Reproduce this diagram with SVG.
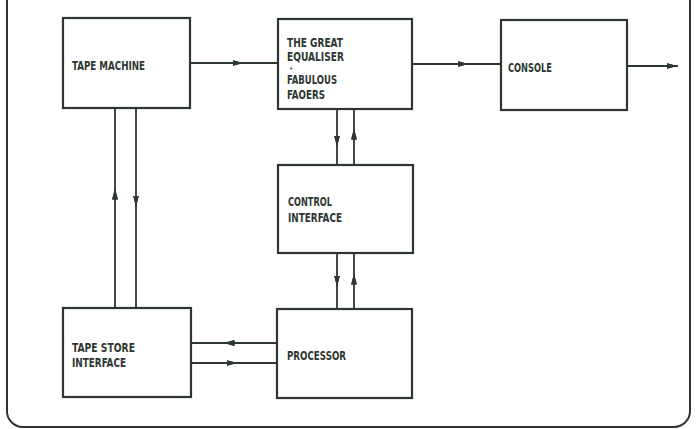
<svg xmlns="http://www.w3.org/2000/svg" width="700" height="429" viewBox="0 0 700 429">
<defs>
<marker id="ah" viewBox="0 0 10 6" refX="5" refY="3" markerWidth="11" markerHeight="6.5" markerUnits="userSpaceOnUse" orient="auto">
<path d="M0,0.3 L10,3 L0,5.7 Z" fill="#2e3631"/>
</marker>
<style>
.box{fill:none;stroke:#2e3631;stroke-width:2.2}
.ln{fill:none;stroke:#2e3631;stroke-width:1.8}
.frame{fill:none;stroke:#2e3631;stroke-width:2}
text{font-family:"Liberation Sans Narrow","DejaVu Sans Condensed","Liberation Sans",sans-serif;font-weight:bold;font-size:13px;fill:#2e3631}
</style>
</defs>
<rect width="700" height="429" fill="#ffffff"/>
<path class="frame" d="M7,-5 V410 A16,16 0 0 0 23,427 H674 A16,16 0 0 0 690,411 V-5"/>
<g id="connectors">
<path class="ln" d="M190,63 H238 M238,63 H278" marker-mid="url(#ah)"/>
<path class="ln" d="M412,64 H463 M463,64 H501" marker-mid="url(#ah)"/>
<path class="ln" d="M627,66 H672 M672,66 H678" marker-mid="url(#ah)"/>
<path class="ln" d="M337,109 V141 M337,141 V165" marker-mid="url(#ah)"/>
<path class="ln" d="M354,165 V134 M354,134 V109" marker-mid="url(#ah)"/>
<path class="ln" d="M337,253 V281 M337,281 V309" marker-mid="url(#ah)"/>
<path class="ln" d="M354,309 V279 M354,279 V253" marker-mid="url(#ah)"/>
<path class="ln" d="M115,308 V194 M115,194 V108" marker-mid="url(#ah)"/>
<path class="ln" d="M136,108 V201 M136,201 V308" marker-mid="url(#ah)"/>
<path class="ln" d="M277,343 H229 M229,343 H191" marker-mid="url(#ah)"/>
<path class="ln" d="M191,363 H232 M232,363 H277" marker-mid="url(#ah)"/>
</g>
<g id="tape-machine">
<rect class="box" x="63" y="18" width="127" height="90"/>
<text x="72" y="70" textLength="73" lengthAdjust="spacingAndGlyphs">TAPE MACHINE</text>
</g>
<g id="great-equaliser">
<rect class="box" x="278" y="19" width="134" height="90"/>
<text x="287" y="47" textLength="56" lengthAdjust="spacingAndGlyphs">THE GREAT</text>
<text x="287" y="61" textLength="57" lengthAdjust="spacingAndGlyphs">EQUALISER</text>
<text x="289" y="69.8" style="font-size:5.5px">+</text>
<text x="287" y="83.5" textLength="50" lengthAdjust="spacingAndGlyphs">FABULOUS</text>
<text x="287" y="99" textLength="38" lengthAdjust="spacingAndGlyphs">FAOERS</text>
</g>
<g id="console">
<rect class="box" x="501" y="20" width="126" height="90"/>
<text x="508" y="72" textLength="44" lengthAdjust="spacingAndGlyphs">CONSOLE</text>
</g>
<g id="control-interface">
<rect class="box" x="278" y="165" width="135" height="88"/>
<text x="288" y="206" textLength="44" lengthAdjust="spacingAndGlyphs">CONTROL</text>
<text x="288" y="222" textLength="54" lengthAdjust="spacingAndGlyphs">INTERFACE</text>
</g>
<g id="tape-store-interface">
<rect class="box" x="63" y="308" width="128" height="89"/>
<text x="72" y="352" textLength="63" lengthAdjust="spacingAndGlyphs">TAPE STORE</text>
<text x="72" y="367" textLength="54" lengthAdjust="spacingAndGlyphs">INTERFACE</text>
</g>
<g id="processor">
<rect class="box" x="277" y="309" width="135" height="89"/>
<text x="287" y="360" textLength="59" lengthAdjust="spacingAndGlyphs">PROCESSOR</text>
</g>
</svg>
